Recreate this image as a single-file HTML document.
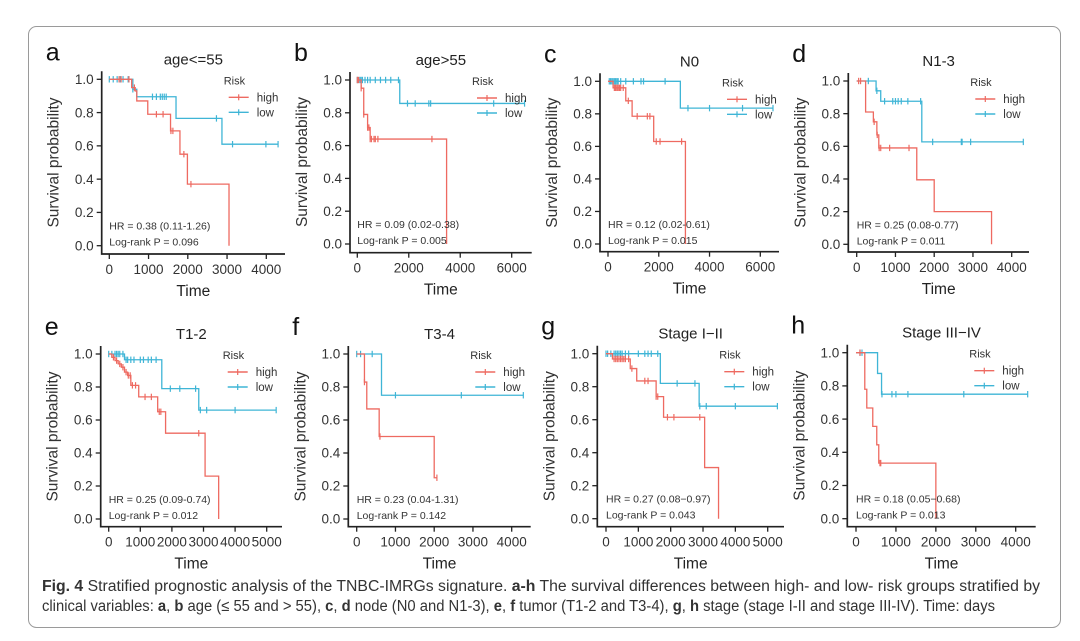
<!DOCTYPE html>
<html><head><meta charset="utf-8">
<style>
html,body{margin:0;padding:0;background:#fff;}
svg{display:block;}
text{font-family:"Liberation Sans",Arial,sans-serif;}
</style></head>
<body>
<svg id="fig" width="1080" height="641" viewBox="0 0 1080 641" xmlns="http://www.w3.org/2000/svg">
<rect x="28.5" y="26.5" width="1032" height="601" rx="8" fill="#fff" stroke="#9a9a9a" stroke-width="1"/>
<g id="panels"></g>
<text x="42" y="591" font-size="15.5" fill="#333" textLength="998" lengthAdjust="spacingAndGlyphs"><tspan font-weight="bold">Fig. 4</tspan>  Stratified prognostic analysis of the TNBC-IMRGs signature. <tspan font-weight="bold">a-h</tspan> The survival differences between high- and low- risk groups stratified by</text>
<text x="42" y="611" font-size="15.5" fill="#333" textLength="953" lengthAdjust="spacingAndGlyphs">clinical variables: <tspan font-weight="bold">a</tspan>, <tspan font-weight="bold">b</tspan> age (≤ 55 and &gt; 55), <tspan font-weight="bold">c</tspan>, <tspan font-weight="bold">d</tspan> node (N0 and N1-3), <tspan font-weight="bold">e</tspan>, <tspan font-weight="bold">f</tspan> tumor (T1-2 and T3-4), <tspan font-weight="bold">g</tspan>, <tspan font-weight="bold">h</tspan> stage (stage I-II and stage III-IV). Time: days</text>
</svg>
<script>
// ---- data (time in days, survival probability) ----
const aHighT=[570,660,700,980,1560,1800,1990,3050];
const aHighS=[0.95,0.93,0.87,0.79,0.69,0.55,0.37,0];
const aHighC=[250,300,500,640,1200,1370,1570,1620,1900,2080];
const aLowT=[600,700,1700,2870];
const aLowS=[0.94,0.895,0.765,0.61];
const aLowC=[0,100,200,280,350,480,600,1100,1200,1300,1350,1400,1450,2730,3140,3990,4300];

const bHighT=[150,250,400,500,3470];
const bHighS=[0.95,0.79,0.71,0.64,0];
const bHighC=[0,50,150,250,400,450,500,550,650,700,800,2900];
const bLowT=[1650];
const bLowS=[0.857];
const bLowC=[0,100,150,200,300,400,500,700,900,1100,1300,1600,1950,2250,2780,2850,5300,6500];

const cHighT=[200,700,950,1800,3050];
const cHighS=[0.96,0.88,0.785,0.63,0];
const cHighC=[250,300,350,400,450,500,600,800,1150,1550,1650,1900,2050,2900];
const cLowT=[2850];
const cLowS=[0.835];
const cLowC=[50,100,150,200,250,300,350,400,500,700,1000,1300,1400,2250,3150,4000,5300,6500];

const dHighT=[230,430,520,570,1550,2000,3480];
const dHighS=[0.81,0.75,0.67,0.59,0.395,0.2,0];
const dHighC=[50,100,450,530,580,620,850,1350];
const dLowT=[500,620,1680];
const dLowS=[0.94,0.876,0.627];
const dLowC=[300,520,720,930,1000,1070,1150,1320,1650,1960,2700,2720,2940,4300];

const eHighT=[100,200,300,400,500,600,700,950,1550,1800,3050,3480];
const eHighS=[0.98,0.96,0.94,0.92,0.89,0.87,0.81,0.74,0.65,0.52,0.26,0];
const eHighC=[150,250,350,450,550,620,680,750,850,1150,1350,1600,1650,2850];
const eLowT=[500,1680,2850];
const eLowS=[0.965,0.79,0.66];
const eLowC=[0,100,200,250,300,350,450,550,600,700,800,1000,1100,1250,1350,1500,1950,2250,2750,2900,3100,4000,5300];

const fHighT=[200,260,580,2000];
const fHighS=[0.83,0.667,0.5,0.25];
const fHighC=[200,600,2070];
const fLowT=[640];
const fLowS=[0.75];
const fLowC=[0,100,400,1000,2700,4300];

const gHighT=[200,750,950,1550,1780,3050,3480];
const gHighS=[0.968,0.91,0.835,0.74,0.615,0.31,0];
const gHighC=[250,300,350,400,450,500,550,600,700,800,1200,1300,1550,1600,1900,2100,2900];
const gLowT=[1680,2880];
const gLowS=[0.82,0.682];
const gLowC=[0,50,150,250,300,350,400,450,500,600,700,1000,1200,1300,1400,1600,2200,2750,2900,3100,4000,5300];

const hHighT=[220,270,420,520,570,2000];
const hHighS=[0.78,0.667,0.556,0.445,0.335,0];
const hHighC=[100,600,620];
const hLowT=[540,640];
const hLowS=[0.875,0.75];
const hLowC=[100,150,650,900,1000,1300,2700,4300];

const yTicks=[0,0.2,0.4,0.6,0.8,1.0];
const xTicks4000=[0,1000,2000,3000,4000];
const xTicks6000=[0,2000,4000,6000];
const xTicks5000=[0,1000,2000,3000,4000,5000];

const titles=["age<=55","age>55","N0","N1-3","T1-2","T3-4","Stage I\u2212II","Stage III\u2212IV"];
const hrText=["HR = 0.38 (0.11-1.26)","HR = 0.09 (0.02-0.38)","HR = 0.12 (0.02-0.61)","HR = 0.25 (0.08-0.77)","HR = 0.25 (0.09-0.74)","HR = 0.23 (0.04-1.31)","HR = 0.27 (0.08\u22120.97)","HR = 0.18 (0.05\u22120.68)"];
const pText=["Log-rank P = 0.096","Log-rank P = 0.005","Log-rank P = 0.015","Log-rank P = 0.011","Log-rank P = 0.012","Log-rank P = 0.142","Log-rank P = 0.043","Log-rank P = 0.013"];

const RED="#EE6A61", BLUE="#3FB5D6";
const NS="http://www.w3.org/2000/svg";
const root=document.getElementById('panels');
function mk(tag,attrs,parent,txt){const e=document.createElementNS(NS,tag);for(const k in attrs)e.setAttribute(k,attrs[k]);if(txt!==undefined)e.textContent=txt;parent.appendChild(e);return e;}

const layout=[
 {id:'a',axL:101.7,x0:109.3,xMax:4000,xMaxPx:266.3,y1:79.3,y0:245.7,axB:254,axR:285,ticks:xTicks4000},
 {id:'b',axL:350,x0:357.3,xMax:6000,xMaxPx:511.7,y1:80,y0:244,axB:252.7,axR:531.7,ticks:xTicks6000},
 {id:'c',axL:600,x0:608,xMax:6000,xMaxPx:760.3,y1:81.3,y0:244,axB:251.7,axR:779,ticks:xTicks6000},
 {id:'d',axL:848.3,x0:856.7,xMax:4000,xMaxPx:1011.7,y1:81,y0:244.3,axB:252,axR:1029,ticks:xTicks4000},
 {id:'e',axL:100.7,x0:108.7,xMax:5000,xMaxPx:266.7,y1:354,y0:519,axB:526.7,axR:282,ticks:xTicks5000},
 {id:'f',axL:348.3,x0:356.7,xMax:4000,xMaxPx:511.7,y1:354,y0:519,axB:526.7,axR:530.7,ticks:xTicks4000},
 {id:'g',axL:597.3,x0:606,xMax:5000,xMaxPx:767.7,y1:353.7,y0:518.7,axB:526.7,axR:784,ticks:xTicks5000},
 {id:'h',axL:847.3,x0:856,xMax:4000,xMaxPx:1015.7,y1:352.7,y0:518.7,axB:526.7,axR:1035.7,ticks:xTicks4000}
];
const series={
 a:[aHighT,aHighS,aHighC,aLowT,aLowS,aLowC], b:[bHighT,bHighS,bHighC,bLowT,bLowS,bLowC],
 c:[cHighT,cHighS,cHighC,cLowT,cLowS,cLowC], d:[dHighT,dHighS,dHighC,dLowT,dLowS,dLowC],
 e:[eHighT,eHighS,eHighC,eLowT,eLowS,eLowC], f:[fHighT,fHighS,fHighC,fLowT,fLowS,fLowC],
 g:[gHighT,gHighS,gHighC,gLowT,gLowS,gLowC], h:[hHighT,hHighS,hHighC,hLowT,hLowS,hLowC]
};

function survAt(T,S,t){let s=1;for(let i=0;i<T.length;i++){if(T[i]<=t)s=S[i];}return s;}

function drawCurve(g,T,S,C,col,X,Y,name){
  let end=0;T.forEach(t=>{if(t>end)end=t;});C.forEach(t=>{if(t>end)end=t;});
  let d="M"+X(0)+","+Y(1);
  for(let i=0;i<T.length;i++){d+=" H"+X(T[i])+" V"+Y(S[i]);}
  if(S.length===0||S[S.length-1]>0) d+=" H"+X(end);
  const p=mk('path',{d:d,fill:'none',stroke:col,'stroke-width':1.3},g);
  
  
  C.forEach(t=>{
    const s=survAt(T,S,t);
    const m=mk('line',{x1:X(t),x2:X(t),y1:Y(s)-3.2,y2:Y(s)+3.2,stroke:col,'stroke-width':1.2},g);
    
    
  });
}

layout.forEach((L,i)=>{
  const g=mk('g',{},root);
  
  
  const X=t=>L.x0+(t/L.xMax)*(L.xMaxPx-L.x0);
  const Y=s=>L.y0-s*(L.y0-L.y1);
  const lt=mk('text',{x:L.axL-56,y:L.y1-19,'font-size':25,fill:'#111'},g,L.id);
  
  
  const tt=mk('text',{x:(L.axL+L.axR)/2,y:L.y1-15,'font-size':15,'text-anchor':'middle',fill:'#222'},g,titles[i]);
  
  
  const ax=mk('path',{d:`M${L.axL},${L.y1-8} V${L.axB} H${L.axR}`,fill:'none',stroke:'#222','stroke-width':1.7},g);
  
  
  yTicks.forEach(v=>{
    mk('line',{x1:L.axL-5,x2:L.axL,y1:Y(v),y2:Y(v),stroke:'#222','stroke-width':1.3},g);
    const t=mk('text',{x:L.axL-8,y:Y(v)+4.7,'font-size':13.5,'text-anchor':'end',fill:'#333'},g,v.toFixed(1));
    
    
  });
  L.ticks.forEach(v=>{
    mk('line',{x1:X(v),x2:X(v),y1:L.axB,y2:L.axB+5,stroke:'#222','stroke-width':1.3},g);
    const t=mk('text',{x:X(v),y:L.axB+20,'font-size':13.5,'text-anchor':'middle',fill:'#333'},g,String(v));
    
    
  });
  const yt=mk('text',{x:0,y:0,'font-size':15.5,'text-anchor':'middle',fill:'#333',transform:`translate(${L.axL-43},${(L.y1+L.y0)/2}) rotate(-90)`},g,'Survival probability');
  
  
  const xt=mk('text',{x:(L.axL+L.axR)/2,y:L.axB+42,'font-size':15.5,'text-anchor':'middle',fill:'#222'},g,'Time');
  
  
  const sr=series[L.id];
  drawCurve(g,sr[3],sr[4],sr[5],BLUE,X,Y,'low-risk');
  drawCurve(g,sr[0],sr[1],sr[2],RED,X,Y,'high-risk');
  const lg=mk('g',{},g);
  
  
  mk('text',{x:L.axL+122,y:L.y1+5,'font-size':11,fill:'#333'},lg,'Risk');
  [[RED,'high',18],[BLUE,'low',33]].forEach(e=>{
    const yy=L.y1+e[2];
    mk('line',{x1:L.axL+127,x2:L.axL+147,y1:yy,y2:yy,stroke:e[0],'stroke-width':1.4},lg);
    mk('line',{x1:L.axL+137,x2:L.axL+137,y1:yy-3,y2:yy+3,stroke:e[0],'stroke-width':1.2},lg);
    const t=mk('text',{x:L.axL+155,y:yy+4,'font-size':11.5,fill:'#333'},lg,e[1]);
    
    
  });
  const h=mk('text',{x:L.x0,y:L.y0-16,'font-size':10.5,fill:'#333'},g,hrText[i]);
  
  
  const p=mk('text',{x:L.x0,y:L.y0,'font-size':10.5,fill:'#333'},g,pText[i]);
  
  
});
</script>
</body></html>
